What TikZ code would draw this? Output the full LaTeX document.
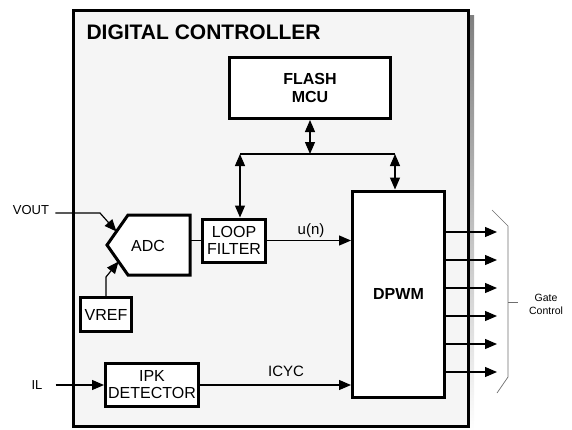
\documentclass[tikz,border=0pt]{standalone}
\usepackage{fontspec}
\setmainfont{Liberation Sans}
\usepackage{tikz}
\usetikzlibrary{arrows.meta,positioning,calc}
\definecolor{panel}{HTML}{F5F5F5}
\definecolor{shade}{HTML}{8C8C8C}
\definecolor{brace}{HTML}{6E6E6E}

\begin{document}
\begin{tikzpicture}[
    x=1pt, y=-1pt,
    blk/.style={draw, line width=3pt, fill=white, align=center, inner sep=0pt, font=\fontsize{16}{17}\selectfont},
    blkb/.style={blk, font=\fontsize{16}{18}\selectfont\bfseries},
    sig/.style={font=\fontsize{13}{15}\selectfont, inner sep=1pt},
    lab/.style={font=\fontsize{15}{17}\selectfont, inner sep=1pt},
    wire/.style={line width=1.2pt},
    arr/.style={wire, -{Triangle[length=12pt,width=10pt]}},
    darr/.style={wire, {Triangle[length=12pt,width=10pt]}-{Triangle[length=12pt,width=10pt]}}
  ]
  \useasboundingbox (0,0) rectangle (572,429);

  % Controller frame with drop shadow
  \fill[shade] (78,15) rectangle (474,432);
  \draw[line width=3pt, fill=panel] (73,10) rectangle (468,426);
  \node[font=\fontsize{21}{23}\selectfont\bfseries, anchor=west] (title) at (83,32) {DIGITAL CONTROLLER};

  % Blocks
  \node[blkb, minimum width=161, minimum height=61] (mcu) at (310,88) {FLASH\\MCU};
  \node[blk, minimum width=63, minimum height=43] (loop) at (234,240.5) {LOOP\\FILTER};
  \node[blkb, minimum width=92, minimum height=206] (dpwm) at (398.5,294) {DPWM};
  \node[blk, minimum width=51, minimum height=34] (vref) at (106,314.5) {VREF};
  \node[blk, minimum width=93, minimum height=43] (ipk) at (152,385) {IPK\\DETECTOR};

  % ADC (pointed input side)
  \coordinate (adcL) at (107,245);
  \coordinate (adcTL) at (128,215);
  \coordinate (adcTR) at (190,215);
  \coordinate (adcBR) at (190,275);
  \coordinate (adcBL) at (128,275);
  \draw[line width=3pt, fill=white] (adcL) -- (adcTL) -- (adcTR) -- (adcBR) -- (adcBL) -- cycle;
  \node[font=\fontsize{16}{17}\selectfont] (adc) at (148,246) {ADC};

  % Bus to the MCU
  \coordinate (busL) at (240,154);
  \coordinate (busR) at (395,154);
  \draw[wire] (busL) -- (busR);
  \draw[darr] (mcu.south) -- (mcu.south |- busL);
  \draw[darr] (busL) -- (busL |- loop.north);
  \draw[darr] (busR) -- (busR |- dpwm.north);

  % Inputs
  \node[sig] (vout) at (31,210) {VOUT};
  \node[sig] (il) at (37,385) {IL};
  \draw[arr] ($(vout.east)+(5,3)$) -- (100,213) -- ($(adcL)!0.45!(adcTL)$);
  \draw[arr] (vref.north) -- (vref.north |- 0,277) -- ($(adcL)!0.55!(adcBL)$);
  \draw[arr] ($(il.east)+(12,0)$) -- (ipk.west);

  % Internal signals
  \draw[wire] (loop.west) -- (loop.west -| adcTR);
  \draw[arr] (loop.east) -- (dpwm.west |- loop.east);
  \node[lab] (un) at (311,231) {u(n)};
  \draw[arr] (ipk.east) -- (dpwm.west |- ipk.east);
  \node[lab] (icyc) at (286,371) {ICYC};

  % Gate outputs
  \foreach \i in {0,...,5} {
    \coordinate (g\i) at (497,232+28*\i);
    \draw[arr] (dpwm.east |- g\i) -- (g\i);
  }
  \draw[brace, line width=0.7pt] (492,210) -- (508,226) -- (508,377) -- (497,393);
  \draw[brace, line width=0.7pt] (508,302) -- (518,302);
  \node[font=\fontsize{10.5}{13}\selectfont, align=center] (gate) at (546,304) {Gate\\Control};
\end{tikzpicture}
\end{document}
